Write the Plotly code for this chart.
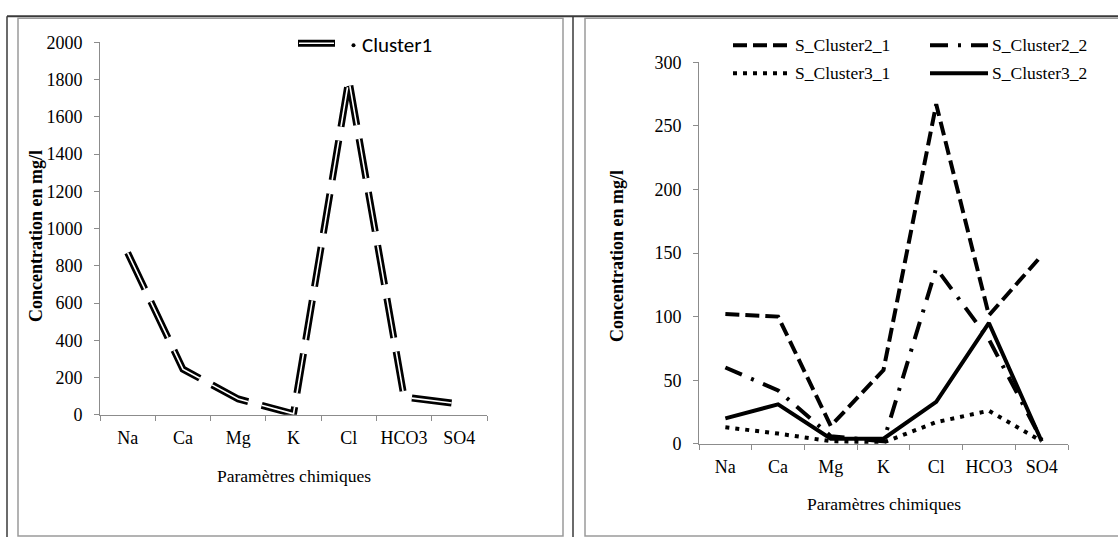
import plotly.graph_objects as go

# ---------------- data ----------------
categories = ["Na", "Ca", "Mg", "K", "Cl", "HCO3", "SO4"]
cluster1 = [870, 245, 85, 5, 1800, 95, 58]
s_cluster2_1 = [102, 100, 14, 58, 267, 101, 148]
s_cluster2_2 = [60, 42, 6, 2, 138, 82, 3]
s_cluster3_1 = [13, 8, 2, 1, 17, 26, 2]
s_cluster3_2 = [20, 31, 4, 4, 33, 95, 2]

left_ticks = [0, 200, 400, 600, 800, 1000, 1200, 1400, 1600, 1800, 2000]
right_ticks = [0, 50, 100, 150, 200, 250, 300]

x_title = "Paramètres chimiques"
y_title = "Concentration en mg/l"

# ---------------- helpers ----------------
W, H = 1118, 547
# the photographed page shows the figure with a small vertical inset;
# positions below are given in photo pixels and converted to figure pixels
PAD = 10.0
SCALE = (H + 2 * PAD) / H


def px(x):
    return x / W


def py(y):
    fig_px = y * SCALE - PAD
    return 1 - fig_px / H


SERIF = "Liberation Serif, Times New Roman, serif"
SANS = "Carlito, Liberation Sans Narrow, Liberation Sans, Arial, sans-serif"
GRID = "#8c8c8c"

fig = go.Figure()

# Left chart: double (outlined) long-dashed line
fig.add_trace(go.Scatter(x=categories, y=cluster1, mode="lines", xaxis="x", yaxis="y",
                         line=dict(color="black", width=7, dash="40px,14px"),
                         showlegend=False, hoverinfo="skip"))
fig.add_trace(go.Scatter(x=categories, y=cluster1, mode="lines", xaxis="x", yaxis="y",
                         name="Cluster1",
                         line=dict(color="white", width=1.6, dash="40px,14px"),
                         showlegend=False))

# Right chart
right_series = [
    ("S_Cluster2_1", s_cluster2_1, "14px,6px"),
    ("S_Cluster2_2", s_cluster2_2, "18px,10px,3px,10px"),
    ("S_Cluster3_1", s_cluster3_1, "4px,6px"),
    ("S_Cluster3_2", s_cluster3_2, "solid"),
]
for name, vals, dash in right_series:
    fig.add_trace(go.Scatter(x=categories, y=vals, mode="lines", xaxis="x2", yaxis="y2",
                             name=name, line=dict(color="black", width=4, dash=dash),
                             showlegend=False))

axis_common = dict(showline=True, linecolor=GRID, linewidth=1, ticks="outside",
                   ticklen=5, tickcolor=GRID, showgrid=False, zeroline=False,
                   tickfont=dict(family=SERIF, size=18, color="black"))

fig.update_layout(
    width=W, height=H, autosize=False,
    margin=dict(l=0, r=0, t=0, b=0, pad=0),
    paper_bgcolor="white", plot_bgcolor="white",
    xaxis=dict(domain=[px(100), px(487)], anchor="y", type="category",
               range=[-0.5, 6.5], tickson="boundaries", tickangle=0,
               ticklabelstandoff=7, **axis_common),
    yaxis=dict(domain=[py(415), py(42)], anchor="x", range=[0, 2000],
               tickvals=left_ticks, ticklabelstandoff=8, **axis_common),
    xaxis2=dict(domain=[px(699), px(1068)], anchor="y2", type="category",
                range=[-0.5, 6.5], tickson="boundaries", tickangle=0,
                ticklabelstandoff=7, **axis_common),
    yaxis2=dict(domain=[py(444), py(62)], anchor="x2", range=[0, 300],
                tickvals=right_ticks, ticklabelstandoff=8, **axis_common),
)

shapes = []
# outer frame lines
dark = "#3a3a3a"
shapes.append(dict(type="line", xref="paper", yref="paper", x0=px(7), x1=1, y0=py(16), y1=py(16),
                   line=dict(color=dark, width=2)))
shapes.append(dict(type="line", xref="paper", yref="paper", x0=px(7), x1=px(7), y0=py(16), y1=0,
                   line=dict(color=dark, width=1.5)))
shapes.append(dict(type="line", xref="paper", yref="paper", x0=px(573), x1=px(573), y0=py(16), y1=0,
                   line=dict(color=dark, width=1.5)))
# chart area boxes
box_bottom = 1 - 546 / H
shapes.append(dict(type="rect", xref="paper", yref="paper", x0=px(18), x1=px(563), y0=box_bottom, y1=py(18),
                   line=dict(color="#9a9a9a", width=1.5)))
shapes.append(dict(type="rect", xref="paper", yref="paper", x0=px(585), x1=px(1122), y0=box_bottom, y1=py(18),
                   line=dict(color="#9a9a9a", width=1.5)))

# legend of left chart
shapes.append(dict(type="line", xref="paper", yref="paper", x0=px(298), x1=px(335), y0=py(43), y1=py(43),
                   line=dict(color="black", width=7)))
shapes.append(dict(type="line", xref="paper", yref="paper", x0=px(299), x1=px(334), y0=py(43), y1=py(43),
                   line=dict(color="white", width=1.6)))
shapes.append(dict(type="circle", xref="paper", yref="paper", x0=px(351.5), x1=px(355.5), y0=py(47), y1=py(43),
                   fillcolor="black", line=dict(color="black", width=0)))

# legend of right chart
leg_pos = [(733, 787, 45), (930, 988, 45), (733, 787, 73), (930, 988, 73)]
for (name, vals, dash), (x0, x1, yy) in zip(right_series, leg_pos):
    shapes.append(dict(type="line", xref="paper", yref="paper", x0=px(x0), x1=px(x1), y0=py(yy), y1=py(yy),
                       line=dict(color="black", width=4, dash=dash)))

annotations = []
annotations.append(dict(xref="paper", yref="paper", x=px(360), y=py(45), text="Cluster1",
                        showarrow=False, xanchor="left", yanchor="middle",
                        font=dict(family=SANS, size=21, color="black")))
text_x = [793, 990, 793, 990]
for (name, vals, dash), (x0, x1, yy), tx in zip(right_series, leg_pos, text_x):
    annotations.append(dict(xref="paper", yref="paper", x=px(tx), y=py(yy), text=name,
                            showarrow=False, xanchor="left", yanchor="middle",
                            font=dict(family=SERIF, size=17.5, color="black")))

# axis titles
annotations.append(dict(xref="paper", yref="paper", x=px(293.5), y=py(476), text=x_title,
                        showarrow=False, xanchor="center", yanchor="middle",
                        font=dict(family=SERIF, size=17.5, color="black")))
annotations.append(dict(xref="paper", yref="paper", x=px(883.5), y=py(504), text=x_title,
                        showarrow=False, xanchor="center", yanchor="middle",
                        font=dict(family=SERIF, size=17.5, color="black")))
annotations.append(dict(xref="paper", yref="paper", x=px(36), y=py(236), text="<b>" + y_title + "</b>",
                        textangle=-90, showarrow=False, xanchor="center", yanchor="middle",
                        font=dict(family=SERIF, size=18, color="black")))
annotations.append(dict(xref="paper", yref="paper", x=px(617), y=py(256), text="<b>" + y_title + "</b>",
                        textangle=-90, showarrow=False, xanchor="center", yanchor="middle",
                        font=dict(family=SERIF, size=18, color="black")))

fig.update_layout(shapes=shapes, annotations=annotations)

post = (
    "document.body.style.margin='0';"
    "document.body.style.overflow='hidden';"
)

fig.write_html("out.html", config={"displayModeBar": False}, post_script=post)
